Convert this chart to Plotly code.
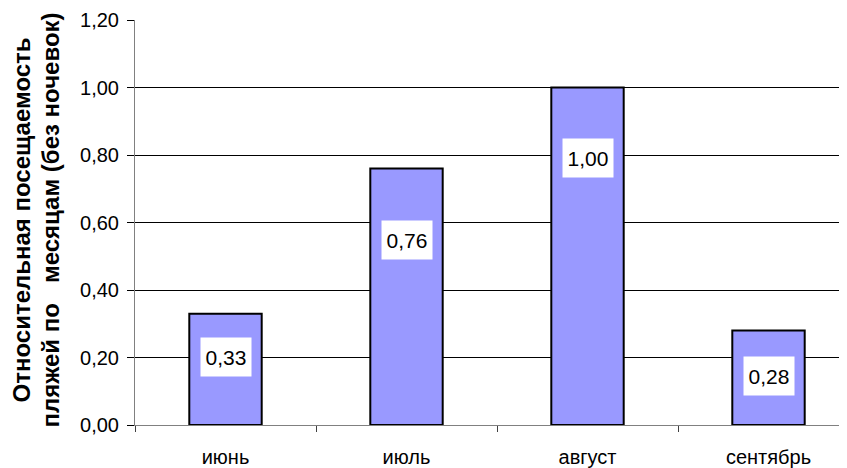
import plotly.graph_objects as go

# Data
months = ["июнь", "июль", "август", "сентябрь"]
values = [0.33, 0.76, 1.00, 0.28]
value_labels = ["0,33", "0,76", "1,00", "0,28"]
y_tickvals = [0.0, 0.2, 0.4, 0.6, 0.8, 1.0, 1.2]
y_ticktext = ["0,00", "0,20", "0,40", "0,60", "0,80", "1,00", "1,20"]

# label anchor as fraction of bar height
label_frac = [0.61, 0.72, 0.79, 0.52]

# page has an 8px body margin; size the figure to fill the window
OFF = 8
W, H = 847 - OFF, 468 - OFF
L, R, T, B = 135 - OFF, 0, 20 - OFF, 41
plot_w = W - L - R

FONT = "Liberation Sans, Arial, sans-serif"

fig = go.Figure()
fig.add_trace(go.Bar(
    x=months, y=values,
    marker=dict(color="#9999FF", line=dict(color="black", width=2)),
    width=0.40,
    hoverinfo="skip",
))

for m, v, t, f in zip(months, values, value_labels, label_frac):
    fig.add_annotation(
        x=m, y=v * f, xref="x", yref="y", text=t, showarrow=False,
        font=dict(family=FONT, size=21, color="black"),
        bgcolor="white", width=50, height=38, align="center", valign="middle",
        borderpad=0,
    )

title_font = dict(family=FONT, size=24, color="black")
fig.add_annotation(
    text="<b>Относительная посещаемость</b>", textangle=-90, showarrow=False,
    xref="paper", yref="paper", x=(21 - (L + OFF)) / plot_w, y=0.505,
    xanchor="center", yanchor="middle", font=title_font,
)
fig.add_annotation(
    text="<b>пляжей по \u00a0\u00a0месяцам (без ночевок)</b>", textangle=-90, showarrow=False,
    xref="paper", yref="paper", x=(50 - (L + OFF)) / plot_w, y=0.505,
    xanchor="center", yanchor="middle", font=title_font,
)

fig.update_layout(
    width=W, height=H,
    margin=dict(l=L, r=R, t=T, b=B, pad=0),
    paper_bgcolor="white", plot_bgcolor="white",
    showlegend=False,
    font=dict(family=FONT, size=20, color="black"),
    xaxis=dict(
        type="category", range=[-0.5, -0.5 + plot_w / 181.0],
        showline=True, linecolor="#808080", linewidth=1,
        ticks="outside", tickson="boundaries", ticklen=6, tickcolor="#404040",
        showgrid=False, zeroline=False,
        tickfont=dict(size=20), ticklabelstandoff=14,
    ),
    yaxis=dict(
        range=[0, 1.2], tickvals=y_tickvals, ticktext=y_ticktext,
        showline=True, linecolor="#808080", linewidth=1,
        ticks="outside", ticklen=7, tickcolor="black",
        showgrid=True, gridcolor="black", gridwidth=1,
        zeroline=False, tickfont=dict(size=20), ticklabelstandoff=4,
    ),
)

fig.write_html("out.html")
